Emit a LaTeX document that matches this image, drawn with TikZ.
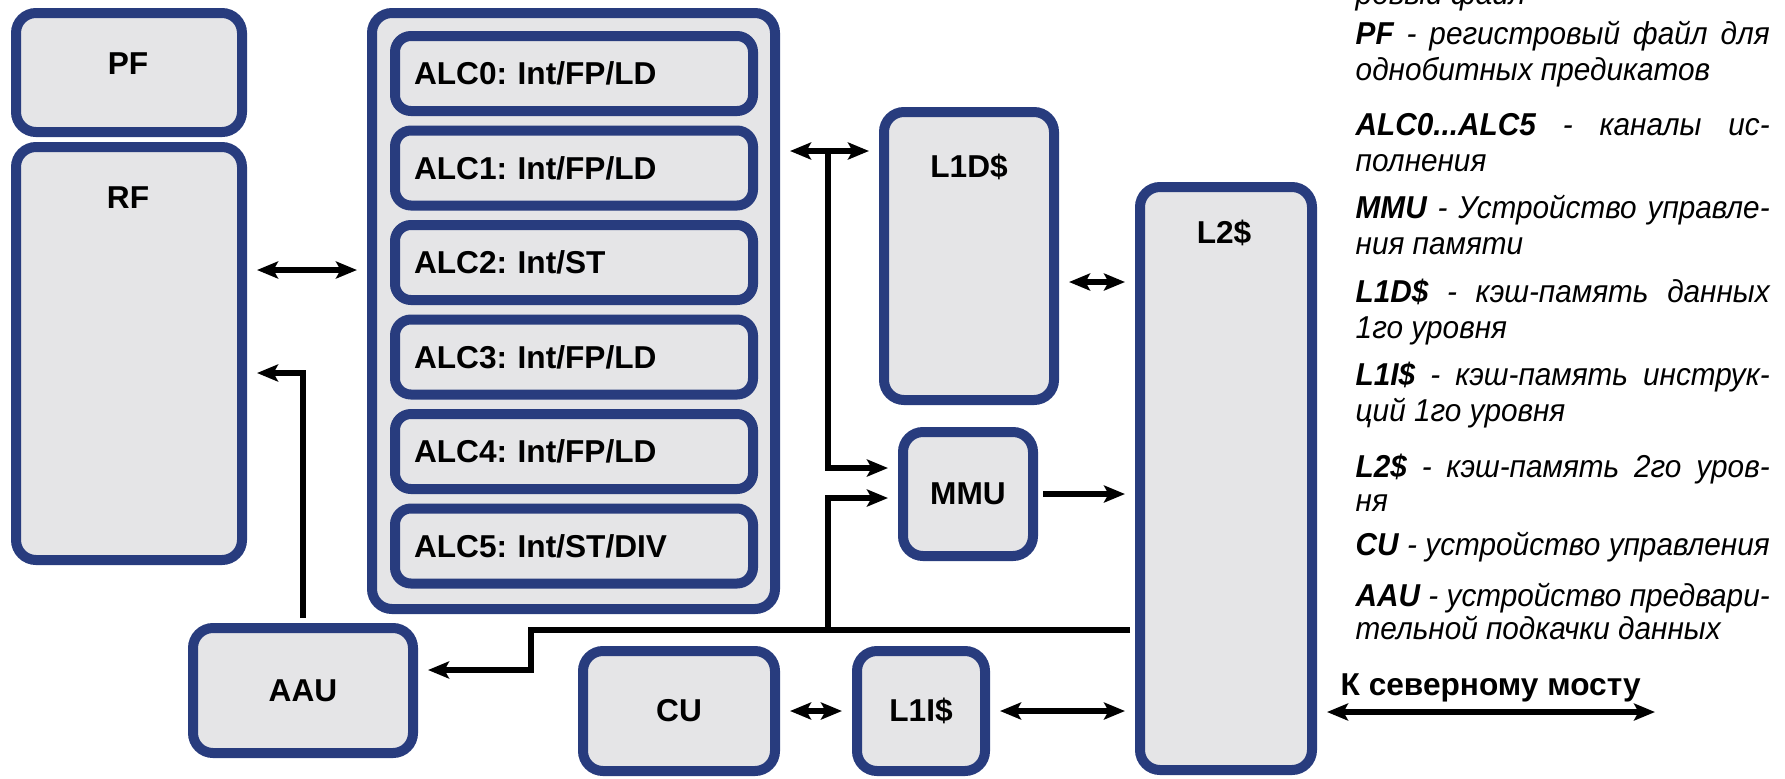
\documentclass[tikz,border=0pt]{standalone}
\usepackage{fontspec}
\setmainfont{Liberation Sans}
\newfontfamily\legfont[FakeStretch=0.94]{Liberation Sans}
\usetikzlibrary{arrows.meta}

\definecolor{unitblue}{RGB}{40,60,126}
\definecolor{unitgray}{RGB}{229,229,231}
\newcommand{\lbl}{\fontsize{9}{10}\selectfont\bfseries\frenchspacing}
\newcommand{\legtxt}{\legfont\fontsize{9}{10}\selectfont\itshape}
\newcommand{\legjust}[1]{\makebox[41.4mm][s]{#1}}

\begin{document}
\begin{tikzpicture}[x=0.1mm, y=-0.1mm, >={Stealth[length=2.1mm,width=1.7mm,inset=0.45mm]},
    unit/.style={draw=unitblue, fill=unitgray, line width=1mm, rounded corners=2mm, inner sep=0pt, font=\lbl},
    alcunit/.style={unit, rounded corners=1.6mm, text width=32mm, align=left, inner xsep=1.9mm, minimum height=7.5mm},
    link/.style={line width=0.65mm, shorten >=1mm},
    tag/.style={font=\lbl, inner sep=0pt},
    leg/.style={anchor=base west, inner sep=0pt, font=\legtxt}]
    \useasboundingbox (0,0) rectangle (1785,778);
    \clip (0,0) rectangle (1785,778);

    % Register files
    \node (pf) at (129,72.5) [unit, minimum width=22.6mm, minimum height=11.9mm] {};
    \node (pflbl) at (128,64) [tag] {PF};
    \node (rf) at (129,353.5) [unit, minimum width=22.6mm, minimum height=41.3mm] {};
    \node (rflbl) at (128,198) [tag] {RF};

    % Execution channels
    \node (alc) at (573.5,311) [unit, minimum width=40.3mm, minimum height=59.6mm] {};
    \node (alc0) at (574,73.5) [alcunit] {ALC0: Int/FP/LD};
    \node (alc1) at (574,168) [alcunit] {ALC1: Int/FP/LD};
    \node (alc2) at (574,262.5) [alcunit] {ALC2: Int/ST};
    \node (alc3) at (574,357) [alcunit] {ALC3: Int/FP/LD};
    \node (alc4) at (574,451.5) [alcunit] {ALC4: Int/FP/LD};
    \node (alc5) at (574,546) [alcunit] {ALC5: Int/ST/DIV};

    % Caches and the rest
    \node (l1d) at (969,256) [unit, minimum width=17mm, minimum height=28.8mm] {};
    \node (l1dlbl) at (969,167) [tag] {L1D\$};
    \node (mmu) at (968,494) [unit, minimum width=13mm, minimum height=12.4mm] {MMU};
    \node (l2) at (1226,478.5) [unit, minimum width=17.2mm, minimum height=58.3mm] {};
    \node (l2lbl) at (1224,233) [tag] {L2\$};
    \node (aau) at (303,690.5) [unit, minimum width=22mm, minimum height=12.5mm] {AAU};
    \node (cu) at (679,711) [unit, minimum width=19.2mm, minimum height=12mm] {CU};
    \node (l1i) at (921,711) [unit, minimum width=12.8mm, minimum height=12mm] {L1I\$};

    \coordinate (yrf) at (0,270);
    \coordinate (yaau) at (0,373);
    \coordinate (yl1d) at (0,151);
    \coordinate (jd) at (828,151);
    \coordinate (ymmua) at (0,468);
    \coordinate (ymmub) at (0,498);
    \coordinate (jbus) at (531,630);
    \coordinate (jm) at (828,630);
    \coordinate (yaaui) at (0,670);
    \coordinate (yl2) at (0,282);
    \coordinate (nb) at (1655,712);

    \draw [<->, link, shorten <=1mm] (rf.east |- yrf) -- (alc.west |- yrf);
    \draw [->, link, shorten <=0.5mm] (aau.north) |- (rf.east |- yaau);
    \draw [<->, link, shorten <=1mm] (alc.east |- yl1d) -- (l1d.west |- yl1d);
    \draw [->, link] (jd) |- (mmu.west |- ymmua);
    \draw [->, link, shorten <=0.5mm] (l2.west |- jbus) -- (jbus) |- (aau.east |- yaaui);
    \draw [->, link] (jm) |- (mmu.west |- ymmub);
    \draw [->, link, shorten <=0.5mm] (mmu.east) -- (l2.west |- mmu.east);
    \draw [<->, link, shorten <=1mm] (l1d.east |- yl2) -- (l2.west |- yl2);
    \draw [<->, link, shorten <=1mm] (cu.east) -- (l1i.west);
    \draw [<->, link, shorten <=1mm] (l1i.east) -- (l2.west |- l1i.east);
    \draw [<->, link, shorten <=1mm, shorten >=0pt] (l2.east |- nb) -- (nb);
    \node (nbtxt) at (1340,688) [anchor=west, inner sep=0pt, font=\lbl] {К северному мосту};

    % Legend
    \node (lrf) at (1355,4) [leg] {ровый файл};
    \node (lpfa) at (1355,44) [leg] {\legjust{\textbf{PF} - регистровый файл для}};
    \node (lpfb) at (1355,80) [leg] {однобитных предикатов};
    \node (lalca) at (1355,135) [leg] {\legjust{\textbf{ALC0...ALC5} - каналы ис-}};
    \node (lalcb) at (1355,171) [leg] {полнения};
    \node (lmmua) at (1355,218) [leg] {\legjust{\textbf{MMU} - Устройство управле-}};
    \node (lmmub) at (1355,254) [leg] {ния памяти};
    \node (lldda) at (1355,302) [leg] {\legjust{\textbf{L1D\$} - кэш-память данных}};
    \node (llddb) at (1355,338) [leg] {1го уровня};
    \node (llia) at (1355,385) [leg] {\legjust{\textbf{L1I\$} - кэш-память инструк-}};
    \node (llib) at (1355,421) [leg] {ций 1го уровня};
    \node (ll2a) at (1355,477) [leg] {\legjust{\textbf{L2\$} - кэш-память 2го уров-}};
    \node (ll2b) at (1355,511) [leg] {ня};
    \node (lcu) at (1355,555) [leg] {\legjust{\textbf{CU} - устройство управления}};
    \node (laaua) at (1355,606) [leg] {\legjust{\textbf{AAU} - устройство предвари-}};
    \node (laaub) at (1355,639) [leg] {тельной подкачки данных};
\end{tikzpicture}
\end{document}
